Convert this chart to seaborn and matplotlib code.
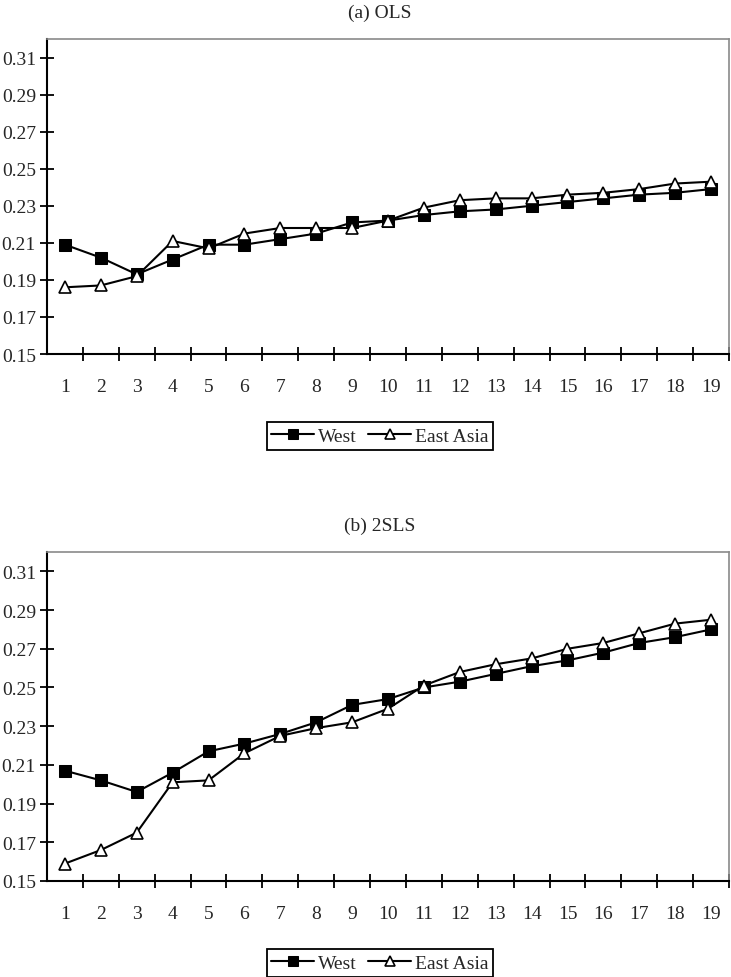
import matplotlib
matplotlib.use("Agg")
import matplotlib.pyplot as plt
import seaborn as sns
import pandas as pd
from matplotlib.ticker import FixedLocator

periods = list(range(1, 20))

ols_west = [0.209, 0.202, 0.193, 0.201, 0.209, 0.209, 0.212, 0.215, 0.221, 0.222,
            0.225, 0.227, 0.228, 0.230, 0.232, 0.234, 0.236, 0.237, 0.239]
ols_east = [0.186, 0.187, 0.192, 0.211, 0.207, 0.215, 0.218, 0.218, 0.218, 0.222,
            0.229, 0.233, 0.234, 0.234, 0.236, 0.237, 0.239, 0.242, 0.243]

tsls_west = [0.207, 0.202, 0.196, 0.206, 0.217, 0.221, 0.226, 0.232, 0.241, 0.244,
             0.250, 0.253, 0.257, 0.261, 0.264, 0.268, 0.273, 0.276, 0.280]
tsls_east = [0.159, 0.166, 0.175, 0.201, 0.202, 0.216, 0.225, 0.229, 0.232, 0.239,
             0.251, 0.258, 0.262, 0.265, 0.270, 0.273, 0.278, 0.283, 0.285]

yticks = [0.15, 0.17, 0.19, 0.21, 0.23, 0.25, 0.27, 0.29, 0.31]
panel_titles = ["(a) OLS", "(b) 2SLS"]

sns.set_style("white")
plt.rcParams["font.family"] = ["Liberation Serif", "DejaVu Serif"]
FS = 14

fig = plt.figure(figsize=(7.31, 9.78), dpi=100)
W, H = 731, 978

# axes boxes in pixels: left, top, right, bottom
boxes = [(47, 40, 729, 355), (47, 553, 729, 882)]
series = [(ols_west, ols_east), (tsls_west, tsls_east)]

for (l, t, r, b), (west, east), title in zip(boxes, series, panel_titles):
    ax = fig.add_axes([l / W, (H - b) / H, (r - l) / W, (b - t) / H])
    df = pd.DataFrame({"period": periods * 2,
                       "value": west + east,
                       "group": ["West"] * 19 + ["East Asia"] * 19})
    sns.lineplot(data=df[df.group == "West"], x="period", y="value", ax=ax,
                 color="black", lw=1.5, marker="s", markersize=8.5,
                 markerfacecolor="black", markeredgecolor="black", label="West")
    sns.lineplot(data=df[df.group == "East Asia"], x="period", y="value", ax=ax,
                 color="black", lw=1.5, marker="^", markersize=9,
                 markerfacecolor="white", markeredgecolor="black", markeredgewidth=1.2,
                 label="East Asia")

    ax.set_xlim(0.5, 19.5)
    ax.set_ylim(0.15, 0.32)
    ax.set_xlabel("")
    ax.set_ylabel("")

    ax.yaxis.set_major_locator(FixedLocator(yticks))
    ax.set_yticklabels([f"{v:.2f}" for v in yticks], fontsize=FS)
    ax.tick_params(axis="y", which="major", direction="inout", length=10, width=1.3,
                   color="black", pad=3, left=True)

    ax.xaxis.set_major_locator(FixedLocator([p + 0.5 for p in periods]))
    ax.xaxis.set_minor_locator(FixedLocator(periods))
    ax.set_xticklabels([], minor=False)
    ax.set_xticklabels([str(p) for p in periods], minor=True, fontsize=FS)
    ax.tick_params(axis="x", which="major", direction="inout", length=10, width=1.3,
                   color="black", bottom=True)
    ax.tick_params(axis="x", which="minor", length=0, pad=17, bottom=True)

    for s in ["left", "bottom"]:
        ax.spines[s].set_color("black")
        ax.spines[s].set_linewidth(1.5)
    for s in ["top", "right"]:
        ax.spines[s].set_color("#8a8a8a")
        ax.spines[s].set_linewidth(1.2)
    ax.grid(False)

    handles, labels = ax.get_legend_handles_labels()
    ax.legend_.remove()
    leg = ax.legend(handles, labels, loc="center",
                    bbox_to_anchor=(380 / W, (H - (b + 82)) / H),
                    bbox_transform=fig.transFigure, ncol=2, frameon=True,
                    fancybox=False, framealpha=1, fontsize=FS,
                    handlelength=2.2, handletextpad=0.2, columnspacing=0.6,
                    borderpad=0.25, markerscale=0.85)
    leg.get_frame().set_edgecolor("black")
    leg.get_frame().set_linewidth(1.3)

    fig.text(380 / W, (H - (t - 27)) / H, title, ha="center", va="center", fontsize=FS)

fig.savefig("out.png", dpi=100)
